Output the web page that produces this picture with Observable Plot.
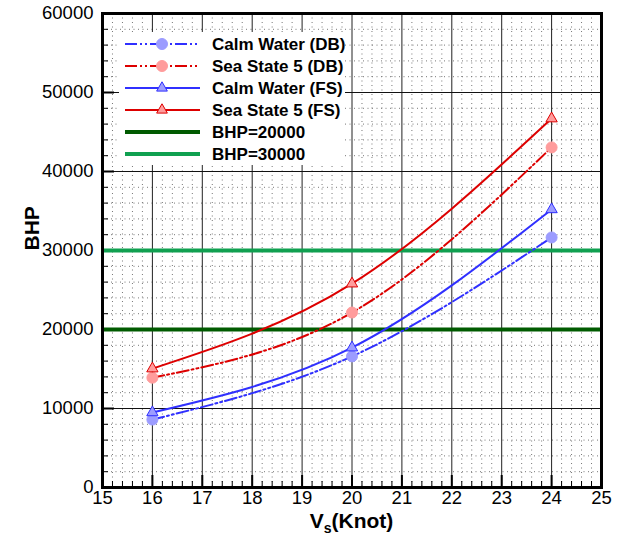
<!DOCTYPE html>
<html><head><meta charset="utf-8">
<script src="https://cdn.jsdelivr.net/npm/d3@7"></script>
<script src="https://cdn.jsdelivr.net/npm/@observablehq/plot@0.6"></script>
<style>body{margin:0;background:#fff}</style>
</head><body><div id="chart"></div>
<script>
// ---- data ----
const speeds = [16, 20, 24];
const calmDB = [8600, 16600, 31650];
const seaDB  = [13900, 22150, 43050];
const calmFS = [9500, 17700, 35200];
const seaFS  = [15050, 25800, 46700];
const refLevels = [20000, 30000];
const seriesNames = ["Calm Water (DB)", "Sea State 5 (DB)", "Calm Water (FS)", "Sea State 5 (FS)", "BHP=20000", "BHP=30000"];
const xTicks = [15, 16, 17, 18, 19, 20, 21, 22, 23, 24, 25];
const yTicks = [0, 10000, 20000, 30000, 40000, 50000, 60000];

// ---- styles ----
const blue = "#3030ff", red = "#dd0000";
const blueFill = "#9c9cff", redFill = "#ff9c9c";
const darkGreen = "#005a00", green = "#10a050";
const dashDB = "12,3,2,3,2,3";
const font = "'Liberation Sans', Arial, Helvetica, sans-serif";

const W = 621, H = 535, mL = 102, mR = 20, mT = 13, mB = 48;
const fW = W - mL - mR, fH = H - mT - mB;

const rows = vals => speeds.map((x, i) => ({x, y: vals[i]}));
const minorX = d3.range(150, 251, 2).map(v => v / 10).filter(v => !xTicks.includes(v));
const minorY = d3.range(0, 60001, 2000).filter(v => !yTicks.includes(v));
const innerX = xTicks.slice(1, -1), innerY = yTicks.slice(1, -1);

const legendItems = [
  {name: seriesNames[0], stroke: blue, dash: dashDB, sym: "circle", fill: blueFill, w: 2},
  {name: seriesNames[1], stroke: red, dash: dashDB, sym: "circle", fill: redFill, w: 2},
  {name: seriesNames[2], stroke: blue, dash: null, sym: "triangle", fill: blueFill, w: 2},
  {name: seriesNames[3], stroke: red, dash: null, sym: "triangle", fill: redFill, w: 2},
  {name: seriesNames[4], stroke: darkGreen, dash: null, sym: null, w: 4},
  {name: seriesNames[5], stroke: green, dash: null, sym: null, w: 4}
];

function legend() {
  const g = d3.create("svg:g");
  g.append("rect").attr("x", 119).attr("y", 32).attr("width", 226).attr("height", 133).attr("fill", "white");
  legendItems.forEach((it, i) => {
    const y = 44 + i * 22;
    g.append("line").attr("x1", 125).attr("x2", 200).attr("y1", y).attr("y2", y)
      .attr("stroke", it.stroke).attr("stroke-width", it.w).attr("stroke-dasharray", it.dash);
    if (it.sym) {
      g.append("path").attr("transform", `translate(162,${y})`)
        .attr("d", d3.symbol(it.sym === "circle" ? d3.symbolCircle : d3.symbolTriangle, it.sym === "circle" ? 95 : 50)())
        .attr("fill", it.fill).attr("stroke", it.sym === "circle" ? it.fill : it.stroke).attr("stroke-width", 1);
    }
    g.append("text").attr("x", 212).attr("y", y).attr("dy", "0.36em").attr("text-anchor", "start")
      .attr("font-family", font).attr("font-weight", "bold").attr("font-size", 17)
      .attr("fill", "black").text(it.name);
  });
  return g.node();
}

function xTitle() {
  const t = d3.create("svg:text").attr("x", mL + fW / 2).attr("y", 528)
    .attr("text-anchor", "middle").attr("font-family", font).attr("font-weight", "bold")
    .attr("font-size", 21).attr("fill", "black");
  t.append("tspan").text("V");
  t.append("tspan").attr("font-size", 14).attr("dy", 5).text("s");
  t.append("tspan").attr("dy", -5).text("(Knot)");
  return t.node();
}

const dotMarks = (vals, sym, fill, stroke) =>
  Plot.dot(rows(vals), {x: "x", y: "y", symbol: sym, r: sym === "circle" ? 5.5 : 4.2, fill, stroke, strokeWidth: 1});

const chart = Plot.plot({
  width: W, height: H,
  marginLeft: mL, marginRight: mR, marginTop: mT, marginBottom: mB,
  style: {fontFamily: font, fontSize: "18.5px", color: "black", background: "white"},
  x: {domain: [15, 25], ticks: xTicks, tickSize: 0, tickPadding: 3, label: null},
  y: {domain: [0, 60000], ticks: yTicks, tickSize: 0, tickPadding: 9, label: null, tickFormat: d => String(d)},
  marks: [
    // minor dotted grid
    Plot.ruleX(minorX, {x: d => d, stroke: "#777", strokeWidth: 1, strokeDasharray: "1,3.5"}),
    Plot.ruleY(minorY, {y: d => d, stroke: "#777", strokeWidth: 1, strokeDasharray: "1,3.5"}),
    // major solid grid
    Plot.ruleX(innerX, {x: d => d, stroke: "#222", strokeWidth: 1}),
    Plot.ruleY(innerY, {y: d => d, stroke: "#111", strokeWidth: 1}),
    // inward ticks
    Plot.ruleX(xTicks, {x: d => d, insetTop: fH - 12, stroke: "black", strokeWidth: 2}),
    Plot.ruleX(minorX, {x: d => d, insetTop: fH - 6, stroke: "black", strokeWidth: 1}),
    Plot.ruleY(yTicks, {y: d => d, insetRight: fW - 12, stroke: "black", strokeWidth: 2}),
    Plot.ruleY(minorY, {y: d => d, insetRight: fW - 6, stroke: "black", strokeWidth: 1}),
    // reference levels
    Plot.ruleY([refLevels[0]], {y: d => d, stroke: darkGreen, strokeWidth: 4}),
    Plot.ruleY([refLevels[1]], {y: d => d, stroke: green, strokeWidth: 4}),
    // series
    Plot.line(rows(calmDB), {x: "x", y: "y", stroke: blue, strokeWidth: 2, strokeDasharray: dashDB, curve: "natural"}),
    Plot.line(rows(seaDB), {x: "x", y: "y", stroke: red, strokeWidth: 2, strokeDasharray: dashDB, curve: "natural"}),
    Plot.line(rows(calmFS), {x: "x", y: "y", stroke: blue, strokeWidth: 2, curve: "natural"}),
    Plot.line(rows(seaFS), {x: "x", y: "y", stroke: red, strokeWidth: 2, curve: "natural"}),
    dotMarks(calmDB, "circle", blueFill, blueFill),
    dotMarks(seaDB, "circle", redFill, redFill),
    dotMarks(calmFS, "triangle", blueFill, blue),
    dotMarks(seaFS, "triangle", redFill, red),
    // axis title BHP
    Plot.text(["BHP"], {frameAnchor: "left", dx: -70, rotate: -90, text: d => d, fontWeight: "bold", fontSize: 21, fill: "black"}),
    legend,
    xTitle,
    Plot.frame({stroke: "black", strokeWidth: 3})
  ]
});
document.getElementById("chart").append(chart);
</script>
</body></html>
